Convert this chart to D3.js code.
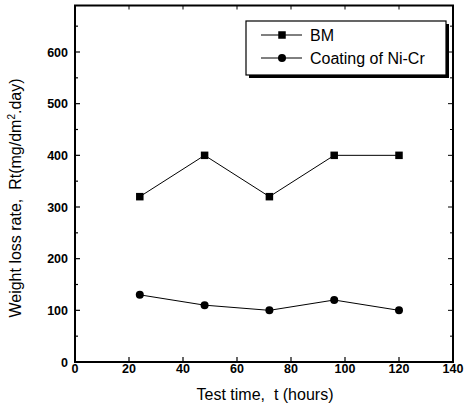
<!DOCTYPE html>
<html>
<head>
<meta charset="utf-8">
<script src="https://cdn.jsdelivr.net/npm/d3@7"></script>
<style>
  body { margin: 0; background: #fff; }
  text { font-family: "Liberation Sans", Arial, sans-serif; fill: #000; white-space: pre; }
</style>
</head>
<body>
<div id="graph"></div>
<script>
// test times (hours)
const hours = [24, 48, 72, 96, 120];
// weight loss rate, mg/dm2.day
const bm = [320, 400, 320, 400, 400];
const coating = [130, 110, 100, 120, 100];
const xTicks = [0, 20, 40, 60, 80, 100, 120, 140];
const yTicks = [0, 100, 200, 300, 400, 500, 600];
const seriesNames = ['BM', 'Coating of Ni-Cr'];

const width = 464;
const height = 409;

const svg = d3.select('#graph')
    .append('svg')
    .attr('width', width)
    .attr('height', height);

const x = d3.scaleLinear().domain([0, 140]).range([75, 453]);
const y = d3.scaleLinear().domain([0, 600]).range([362, 52]);
const yTop = y(690);

// frame
svg.append('rect')
    .attr('x', x(0)).attr('y', yTop)
    .attr('width', x(140) - x(0)).attr('height', y(0) - yTop)
    .attr('fill', 'none').attr('stroke', '#000').attr('stroke-width', 2);

// ticks (inward)
const g = svg.append('g');
g.selectAll('.xt').data(xTicks.slice(1, -1)).enter().append('line')
    .attr('x1', d => x(d)).attr('x2', d => x(d))
    .attr('y1', y(0)).attr('y2', y(0) - 5)
    .attr('stroke', '#000').attr('stroke-width', 1.2);
g.selectAll('.xtt').data(xTicks.slice(1, -1)).enter().append('line')
    .attr('x1', d => x(d)).attr('x2', d => x(d))
    .attr('y1', yTop).attr('y2', yTop + 4)
    .attr('stroke', '#000').attr('stroke-width', 1);
const yMinor = d3.range(50, 700, 50);
g.selectAll('.yt').data(yMinor).enter().append('line')
    .attr('x1', x(0)).attr('x2', d => x(0) + (d % 100 === 0 ? 5 : 3))
    .attr('y1', d => y(d)).attr('y2', d => y(d))
    .attr('stroke', '#000').attr('stroke-width', 1.2);
g.selectAll('.ytr').data(yMinor).enter().append('line')
    .attr('x1', x(140)).attr('x2', d => x(140) - (d % 100 === 0 ? 5 : 3))
    .attr('y1', d => y(d)).attr('y2', d => y(d))
    .attr('stroke', '#000').attr('stroke-width', 1);

// tick labels
svg.selectAll('.xl').data(xTicks).enter().append('text')
    .attr('x', d => x(d)).attr('y', 373)
    .attr('text-anchor', 'middle')
    .attr('font-size', 12.5).attr('font-weight', 'bold')
    .text(d => d);
svg.selectAll('.yl').data(yTicks).enter().append('text')
    .attr('x', 68).attr('y', d => y(d) + 4.5)
    .attr('text-anchor', 'end')
    .attr('font-size', 12.5).attr('font-weight', 'bold')
    .text(d => d);

// axis titles
svg.append('text')
    .attr('x', 265).attr('y', 400)
    .attr('text-anchor', 'middle').attr('font-size', 16)
    .text('Test time,  t (hours)');
const yt = svg.append('text')
    .attr('transform', 'translate(21,198) rotate(-90)')
    .attr('text-anchor', 'middle').attr('font-size', 16);
yt.append('tspan').text('Weight loss rate,  Rt(mg/dm');
yt.append('tspan').attr('dy', -6).attr('font-size', 10).text('2');
yt.append('tspan').attr('dy', 6).text('.day)');

// lines
const line = d3.line().x(d => x(d[0])).y(d => y(d[1]));
const bmPts = hours.map((h, i) => [h, bm[i]]);
const coPts = hours.map((h, i) => [h, coating[i]]);

svg.append('path').attr('d', line(bmPts))
    .attr('fill', 'none').attr('stroke', '#000').attr('stroke-width', 1);
svg.append('path').attr('d', line(coPts))
    .attr('fill', 'none').attr('stroke', '#000').attr('stroke-width', 1);

svg.selectAll('.sq').data(bmPts).enter().append('rect')
    .attr('x', d => x(d[0]) - 3.75).attr('y', d => y(d[1]) - 3.75)
    .attr('width', 7.5).attr('height', 7.5).attr('fill', '#000');
svg.selectAll('.ci').data(coPts).enter().append('circle')
    .attr('cx', d => x(d[0])).attr('cy', d => y(d[1]))
    .attr('r', 4).attr('fill', '#000');

// legend
const lg = svg.append('g');
lg.append('rect').attr('x', 249).attr('y', 24).attr('width', 200).attr('height', 54)
    .attr('fill', '#000');
lg.append('rect').attr('x', 246).attr('y', 21).attr('width', 200).attr('height', 54)
    .attr('fill', '#fff').attr('stroke', '#000').attr('stroke-width', 1.2);
const rows = [35, 58];
seriesNames.forEach((name, i) => {
  const ry = rows[i];
  lg.append('line').attr('x1', 261).attr('x2', 302).attr('y1', ry).attr('y2', ry)
      .attr('stroke', '#000').attr('stroke-width', 1);
  if (i === 0) {
    lg.append('rect').attr('x', 278.25).attr('y', ry - 3.75).attr('width', 7.5).attr('height', 7.5)
        .attr('fill', '#000');
  } else {
    lg.append('circle').attr('cx', 282).attr('cy', ry).attr('r', 4).attr('fill', '#000');
  }
  lg.append('text').attr('x', 310).attr('y', ry + 6)
      .attr('font-size', 16).text(name);
});
</script>
</body>
</html>
